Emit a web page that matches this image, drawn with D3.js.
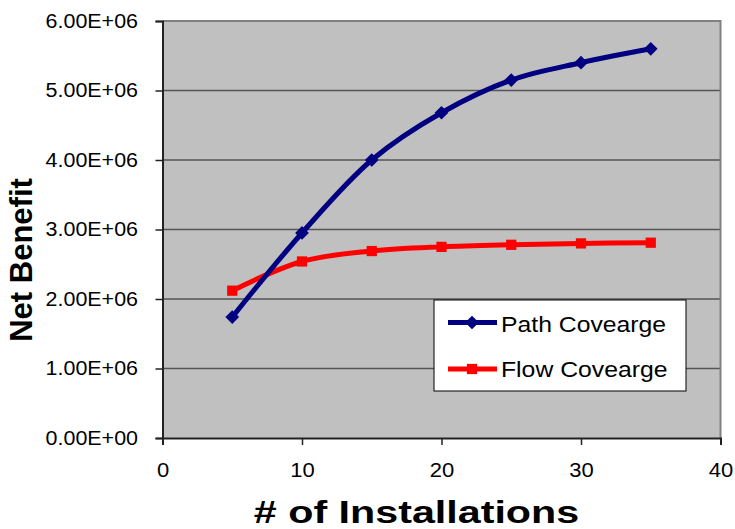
<!DOCTYPE html>
<html>
<head>
<meta charset="utf-8">
<script src="https://cdn.jsdelivr.net/npm/d3@7"></script>
<style>
  html, body { margin: 0; padding: 0; background: #fff; }
  svg { display: block; font-family: Arial, "Liberation Sans", sans-serif; }
</style>
</head>
<body>
<svg id="chart" width="735" height="529"></svg>
<script>
// Installation counts on the x axis
const installations = [5, 10, 15, 20, 25, 30, 35];
// Net benefit for each coverage strategy
const pathCoverage = [1.74e6, 2.95e6, 4.0e6, 4.68e6, 5.15e6, 5.40e6, 5.60e6];
const flowCoverage = [2.12e6, 2.54e6, 2.69e6, 2.75e6, 2.78e6, 2.80e6, 2.81e6];
const seriesNames = ["Path Covearge", "Flow Covearge"];
const xTicks = [0, 10, 20, 30, 40];
const yTicks = [0, 1e6, 2e6, 3e6, 4e6, 5e6, 6e6];

const FONT = "Arial, 'Liberation Sans', sans-serif";
const svg = d3.select("#chart");
const plot = { left: 162.5, right: 720.5, top: 21, bottom: 438 };

const x = d3.scaleLinear().domain([0, 40]).range([plot.left, plot.right]);
const y = d3.scaleLinear().domain([0, 6e6]).range([plot.bottom, plot.top]);

// Widen text horizontally by a factor, keeping its anchor
function widen(sel, factor) {
  sel.each(function () {
    const len = this.getComputedTextLength();
    d3.select(this)
      .attr("textLength", len * factor)
      .attr("lengthAdjust", "spacingAndGlyphs");
  });
}

// Plot background
svg.append("rect")
  .attr("x", plot.left).attr("y", plot.top)
  .attr("width", plot.right - plot.left).attr("height", plot.bottom - plot.top)
  .attr("fill", "#c0c0c0");

// Horizontal gridlines
svg.append("g").selectAll("line")
  .data(yTicks.filter(d => d > 0 && d < 6e6))
  .join("line")
  .attr("x1", plot.left).attr("x2", plot.right)
  .attr("y1", d => y(d)).attr("y2", d => y(d))
  .attr("stroke", "#555").attr("stroke-width", 1.5);

// Top and right frame
svg.append("path")
  .attr("d", `M${plot.left},${plot.top}H${plot.right}V${plot.bottom}`)
  .attr("fill", "none").attr("stroke", "#808080").attr("stroke-width", 2);

// Y axis
const yAxis = d3.axisLeft(y).tickValues(yTicks).tickSize(7).tickPadding(17.5)
  .tickFormat(d => {
    const [m, e] = d3.format(".2e")(d).split("e");
    return `${m}E${e[0]}${e.slice(1).padStart(2, "0")}`;
  });
const gy = svg.append("g").attr("transform", `translate(${plot.left},0)`).call(yAxis);
gy.select(".domain").attr("stroke", "#222").attr("stroke-width", 2);
gy.selectAll(".tick line").attr("stroke", "#222").attr("stroke-width", 1.5);
gy.selectAll(".tick text").attr("font-size", 19.5).attr("fill", "#000")
  .attr("font-family", FONT).call(widen, 1.1);

// X axis
const xAxis = d3.axisBottom(x).tickValues(xTicks).tickSize(7).tickPadding(18);
const gx = svg.append("g").attr("transform", `translate(0,${plot.bottom})`).call(xAxis);
gx.select(".domain").attr("stroke", "#222").attr("stroke-width", 2);
gx.selectAll(".tick line").attr("stroke", "#222").attr("stroke-width", 1.5);
gx.selectAll(".tick text").attr("font-size", 20).attr("fill", "#000")
  .attr("font-family", FONT).call(widen, 1.1);

// Axis titles
svg.append("text")
  .attr("x", 416.5).attr("y", 523)
  .attr("text-anchor", "middle")
  .attr("font-size", 31).attr("font-weight", "bold")
  .text("# of Installations")
  .call(widen, 1.33);

svg.append("text")
  .attr("transform", `translate(32,260) rotate(-90)`)
  .attr("text-anchor", "middle")
  .attr("font-size", 31).attr("font-weight", "bold")
  .text("Net Benefit");

// Series lines
const line = d3.line()
  .x((d, i) => x(installations[i]))
  .y(d => y(d))
  .curve(d3.curveCatmullRom.alpha(0.5));

svg.append("path").datum(flowCoverage)
  .attr("d", line).attr("fill", "none")
  .attr("stroke", "#ff0000").attr("stroke-width", 5).attr("stroke-linejoin", "round");

svg.append("path").datum(pathCoverage)
  .attr("d", line).attr("fill", "none")
  .attr("stroke", "#000080").attr("stroke-width", 5).attr("stroke-linejoin", "round");

// Markers
const diamond = d3.symbol().type(d3.symbolDiamond2).size(120);
const square = d3.symbol().type(d3.symbolSquare).size(105);

svg.append("g").selectAll("path")
  .data(flowCoverage).join("path")
  .attr("transform", (d, i) => `translate(${x(installations[i])},${y(d)})`)
  .attr("d", square).attr("fill", "#ff0000");

svg.append("g").selectAll("path")
  .data(pathCoverage).join("path")
  .attr("transform", (d, i) => `translate(${x(installations[i])},${y(d)})`)
  .attr("d", diamond).attr("fill", "#000080");

// Legend
const legend = svg.append("g");
legend.append("rect")
  .attr("x", 434).attr("y", 300).attr("width", 252).attr("height", 91)
  .attr("fill", "#fff").attr("stroke", "#000").attr("stroke-width", 1);

const legendItems = [
  { name: seriesNames[0], color: "#000080", sym: diamond, cy: 322.5, base: 331.5 },
  { name: seriesNames[1], color: "#ff0000", sym: square, cy: 369, base: 377 }
];
legendItems.forEach(it => {
  legend.append("line")
    .attr("x1", 448).attr("x2", 497).attr("y1", it.cy).attr("y2", it.cy)
    .attr("stroke", it.color).attr("stroke-width", 5);
  legend.append("path")
    .attr("transform", `translate(472,${it.cy})`)
    .attr("d", it.sym).attr("fill", it.color);
  legend.append("text")
    .attr("x", 501).attr("y", it.base)
    .attr("font-size", 22.5).attr("fill", "#000")
    .attr("font-family", FONT)
    .text(it.name)
    .call(widen, 1.1);
});
</script>
</body>
</html>
